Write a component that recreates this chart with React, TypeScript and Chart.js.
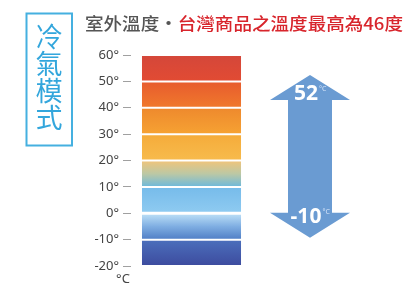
import React, { useEffect, useRef } from "react";
import { Chart, registerables } from "chart.js";

Chart.register(...registerables);

// ---- data ----
const bandLows = [-20, -10, 0, 10, 20, 30, 40, 50];
const bandHighs = [-10, 0, 10, 20, 30, 40, 50, 60];
const yTicks = [-20, -10, 0, 10, 20, 30, 40, 50, 60];
const arrowMax = 52;
const arrowMin = -10;
const titleGray = "室外溫度・";
const titleRed = "台灣商品之溫度最高為46度";
const modeLabel = ["冷", "氣", "模", "式"];
const unitLabel = "°C";

// ---- styles (gradient stops top -> bottom per band, bottom band first) ----
const bandStops: string[][] = [
  ["#4b6fbc", "#3d4b9e"],
  ["#bfe2f8", "#7faee2", "#4f7dc5"],
  ["#76bbea", "#8fcbf1"],
  ["#f1c47a", "#bcc8a4", "#6db9dc"],
  ["#f5ab3a", "#f7bb4c"],
  ["#ee892d", "#f6a233"],
  ["#e75b2e", "#f0792c"],
  ["#d4473a", "#e24b33"],
];

const overlayPlugin = {
  id: "overlay",
  afterDraw(chart: any) {
    const ctx = chart.ctx as CanvasRenderingContext2D;
    const y = chart.scales.y;
    ctx.save();

    // title
    ctx.font = '500 17px "Noto Sans CJK TC"';
    ctx.textBaseline = "middle";
    ctx.textAlign = "left";
    const w1 = ctx.measureText(titleGray).width;
    const w2 = ctx.measureText(titleRed).width;
    const sx = 318 / (w1 + w2);
    ctx.save();
    ctx.translate(85, 24);
    ctx.scale(sx, 1);
    ctx.fillStyle = "#555555";
    ctx.fillText(titleGray, 0, 0);
    ctx.fillStyle = "#d8252c";
    ctx.fillText(titleRed, w1, 0);
    ctx.restore();

    // left box with vertical label
    ctx.strokeStyle = "#45b0e0";
    ctx.lineWidth = 2;
    ctx.strokeRect(26.5, 13.5, 45.5, 132);
    ctx.fillStyle = "#33a6dc";
    ctx.font = '27px "Noto Sans CJK TC"';
    ctx.textAlign = "center";
    ctx.textBaseline = "middle";
    modeLabel.forEach((ch, i) => {
      ctx.fillText(ch, 49, 37 + i * 26.8);
    });

    // unit under axis
    ctx.fillStyle = "#444444";
    ctx.font = '13px "Noto Sans"';
    ctx.textAlign = "center";
    ctx.fillText(unitLabel, 123, 279);

    // double arrow
    const cx = 310;
    const top = y.getPixelForValue(arrowMax) - 1;
    const bot = y.getPixelForValue(arrowMin) - 2;
    const hh = 25;
    const hw = 40;
    const sw = 22;
    ctx.fillStyle = "#6a9bd2";
    ctx.beginPath();
    ctx.moveTo(cx, top);
    ctx.lineTo(cx + hw, top + hh);
    ctx.lineTo(cx + sw, top + hh);
    ctx.lineTo(cx + sw, bot - hh);
    ctx.lineTo(cx + hw, bot - hh);
    ctx.lineTo(cx, bot);
    ctx.lineTo(cx - hw, bot - hh);
    ctx.lineTo(cx - sw, bot - hh);
    ctx.lineTo(cx - sw, top + hh);
    ctx.lineTo(cx - hw, top + hh);
    ctx.closePath();
    ctx.fill();

    const drawVal = (val: number, ty: number) => {
      ctx.font = 'bold 21px "Open Sans"';
      ctx.textAlign = "center";
      ctx.textBaseline = "middle";
      ctx.fillStyle = "#ffffff";
      const t = String(val);
      const tw = ctx.measureText(t).width;
      ctx.fillText(t, 306, ty);
      ctx.font = '7px "Noto Sans"';
      ctx.textAlign = "left";
      ctx.fillStyle = "rgba(230,240,255,0.85)";
      ctx.fillText(unitLabel, 306 + tw / 2 + 1, ty - 5);
    };
    drawVal(arrowMax, top + 19);
    drawVal(arrowMin, bot - 21);

    ctx.restore();
  },
};

export default function App() {
  const ref = useRef<HTMLCanvasElement | null>(null);
  useEffect(() => {
    if (!ref.current) return;
    const chart = new Chart(ref.current, {
      type: "bar",
      data: {
        labels: [""],
        datasets: bandLows.map((lo, i) => ({
          data: [[lo, bandHighs[i]]] as any,
          grouped: false,
          barPercentage: 1,
          categoryPercentage: 0.82,
          borderWidth: { top: 1, bottom: 1, left: 0, right: 0 },
          borderSkipped: false,
          borderColor: "#ffffff",
          backgroundColor: (c: any) => {
            const ch = c.chart;
            const sc = ch.scales && ch.scales.y;
            const stops = bandStops[i];
            if (!ch.chartArea || !sc) return stops[0];
            const g = ch.ctx.createLinearGradient(
              0,
              sc.getPixelForValue(bandHighs[i]),
              0,
              sc.getPixelForValue(lo)
            );
            stops.forEach((s, k) => g.addColorStop(k / (stops.length - 1), s));
            return g;
          },
        })),
      },
      options: {
        responsive: false,
        animation: false,
        layout: { padding: { top: 55, bottom: 20, left: 60, right: 152 } },
        plugins: { legend: { display: false }, tooltip: { enabled: false } },
        scales: {
          x: { display: false },
          y: {
            min: -20,
            max: 60,
            afterFit: (s: any) => {
              s.width = 71;
            },
            afterBuildTicks: (s: any) => {
              s.ticks = yTicks.map((v) => ({ value: v }));
            },
            ticks: {
              callback: (v: any) => `${v}°`,
              color: "#444444",
              padding: 4,
              font: { size: 13, family: "Noto Sans" },
            },
            grid: {
              drawOnChartArea: false,
              drawTicks: true,
              tickLength: 8,
              color: "#a0a0a0",
            },
            border: { display: false },
          },
        },
      },
      plugins: [overlayPlugin],
    });
    return () => chart.destroy();
  }, []);
  return (
    <div style={{ position: "fixed", left: 0, top: 0, width: 404, height: 286, background: "#fff" }}>
      <canvas ref={ref} width={404} height={286} style={{ display: "block" }} />
    </div>
  );
}
